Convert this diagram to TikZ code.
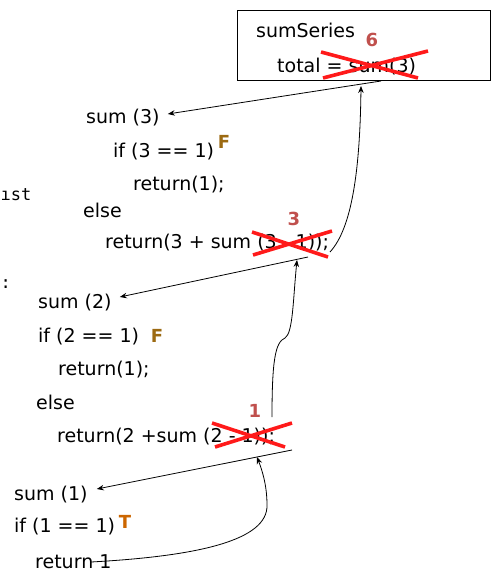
\documentclass[tikz,border=0pt]{standalone}
\usepackage{fontspec}
\setmainfont{DejaVu Sans}
\newfontfamily\codemono{DejaVu Sans Mono}
\usepackage{xcolor}
\usepackage{tikz}
\usetikzlibrary{calc,arrows.meta}
\definecolor{crossred}{HTML}{FF1A1A}
\definecolor{valred}{HTML}{C0504D}
\definecolor{falsebrown}{HTML}{9C6A12}
\definecolor{trueorange}{HTML}{CC6600}

\begin{document}
\begin{tikzpicture}[x=1pt, y=-1pt,
  code/.style={anchor=west, inner sep=0pt, font=\fontsize{19}{22}\selectfont},
  val/.style={inner sep=0pt, text=valred, font=\fontsize{18}{22}\selectfont\bfseries},
  flag/.style={inner sep=0pt, font=\fontsize{18}{22}\selectfont\bfseries},
  call/.style={line width=0.8pt, -{Stealth[length=7pt,width=5.5pt]}},
  back/.style={line width=0.8pt, -{Stealth[length=7pt,width=5.5pt]}},
  cross/.style={line width=3.6pt, crossred}]
  \useasboundingbox (0,0) rectangle (492,572);

  % text at the left edge
  \node[anchor=west, inner sep=0pt, font=\codemono\fontsize{17}{20}\selectfont] (frag1) at (0.5,195) {ıst};
  \node[anchor=west, inner sep=0pt, font=\codemono\fontsize{17}{20}\selectfont] (frag2) at (0.5,284) {:};

  % sumSeries
  \draw[line width=0.8pt] (237,10) rectangle (490,80);
  \node[code] (title) at (256,30) {sumSeries};
  \node[code] (total) at (277,67) {total = sum(3)};
  \node[val] (v6) at (372,40) {6};
  \draw[cross] (321,52) -- (418,78);
  \draw[cross] (323,78) -- (428,51);
  \coordinate (out0) at (381,81);
  \coordinate (in0) at (361,86);

  % sum (3)
  \node[code] (s3) at (86,118) {sum (3)};
  \node[code] (if3) at (113,152) {if (3 == 1)};
  \node[flag, text=falsebrown] (f3) at (224,142) {F};
  \node[code] (r31) at (133,185) {return(1);};
  \node[code] (else3) at (83,210) {else};
  \node[code] (ret3) at (105,243) {return(3 + sum (3 - 1));};
  \node[val] (v3) at (294,219) {3};
  \draw[cross] (252,232) -- (328,257);
  \draw[cross] (253,255) -- (332,231);
  \coordinate (out3) at (308,257);
  \coordinate (in3) at (297,260);
  \coordinate (up3) at (330,252);

  % sum (2)
  \node[code] (s2) at (38,303) {sum (2)};
  \node[code] (if2) at (38,337) {if (2 == 1)};
  \node[flag, text=falsebrown] (f2) at (157,336) {F};
  \node[code] (r21) at (58,370) {return(1);};
  \node[code] (else2) at (36,402) {else};
  \node[code] (ret2) at (57,437) {return(2 +sum (2 - 1));};
  \node[val] (v1) at (255,411) {1};
  \draw[cross] (212,423) -- (285,447);
  \draw[cross] (215,447) -- (292,423);
  \coordinate (out2) at (292,450);
  \coordinate (in2) at (257,457);
  \coordinate (up2) at (272,417);

  % sum (1)
  \node[code] (s1) at (14,495) {sum (1)};
  \node[code] (if1) at (14,527) {if (1 == 1)};
  \node[flag, text=trueorange] (t1) at (125,522) {T};
  \node[code] (ret1) at (35,562) {return 1};
  \coordinate (up1) at (91,562);

  % calls
  \draw[call] (out0) -- ($(s3.east)+(8,-4)$);
  \draw[call] (out3) -- ($(s2.east)+(8,-6)$);
  \draw[call] (out2) -- ($(s1.east)+(9,-6)$);

  % returns
  \draw[back] (up3) .. controls (352,228) and (360,170) .. (in0);
  \draw[back] (up2) .. controls (272,362) and (275,342) .. (285,338)
    .. controls (293,333) and (293,300) .. (in3);
  \draw[back] (up1) .. controls (200,556) and (268,540) .. (267,505)
    .. controls (267,485) and (262,470) .. (in2);
\end{tikzpicture}
\end{document}
